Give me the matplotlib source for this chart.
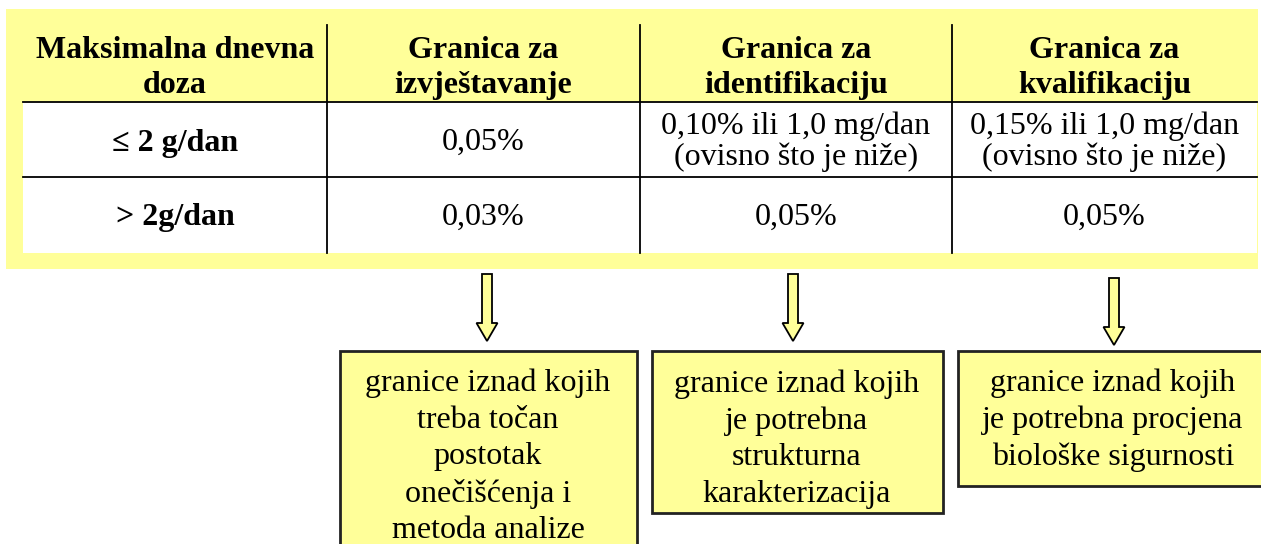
import matplotlib
matplotlib.use("Agg")
import matplotlib.pyplot as plt
from matplotlib.patches import Rectangle, FancyArrow

# ---- content ----
header = ["Maksimalna dnevna\ndoza", "Granica za\nizvještavanje",
          "Granica za\nidentifikaciju", "Granica za\nkvalifikaciju"]
row_labels = ["≤ 2 g/dan", "> 2g/dan"]
row1 = ["0,05%", "0,10% ili 1,0 mg/dan\n(ovisno što je niže)",
        "0,15% ili 1,0 mg/dan\n(ovisno što je niže)"]
row2 = ["0,03%", "0,05%", "0,05%"]
box_texts = ["granice iznad kojih\ntreba točan\npostotak\nonečišćenja i\nmetoda analize",
             "granice iznad kojih\nje potrebna\nstrukturna\nkarakterizacija",
             "granice iznad kojih\nje potrebna procjena\nbiološke sigurnosti"]

# ---- layout (pixel coordinates) ----
W, H = 1261, 544
YEL = "#FFFF99"
fig = plt.figure(figsize=(W / 100, H / 100), dpi=100)
ax = fig.add_axes([0, 0, 1, 1])
ax.set_xlim(0, W)
ax.set_ylim(H, 0)
ax.axis("off")

serif = ["Liberation Serif", "DejaVu Serif"]
fs = 23

# outer yellow frame
ax.add_patch(Rectangle((6, 9), 1252, 260, facecolor=YEL, edgecolor="none"))
# white body of table
ax.add_patch(Rectangle((23, 102), 1234, 151, facecolor="white", edgecolor="none"))

col_edges = [23, 327, 640, 952, 1257]
row_edges = [25, 102, 177, 253]
for x in col_edges[1:-1]:
    ax.plot([x, x], [row_edges[0], row_edges[-1]], color="black", lw=1.3)
for y in row_edges[1:-1]:
    ax.plot([col_edges[0], col_edges[-1]], [y, y], color="black", lw=1.3)

centers = [(col_edges[i] + col_edges[i + 1]) / 2 for i in range(4)]
# header
for cx, t in zip(centers, header):
    ax.text(cx, 68, t, ha="center", va="center", family=serif, fontsize=fs,
            fontweight="bold", linespacing=1.31)
# rows
row_y = [143, 218]
for ry, lab, vals in zip(row_y, row_labels, [row1, row2]):
    ax.text(centers[0], ry, lab, ha="center", va="center", family=serif,
            fontsize=fs, fontweight="bold")
    for cx, v in zip(centers[1:], vals):
        ax.text(cx, ry - 1, v, ha="center", va="center", family=serif,
                fontsize=fs, linespacing=1.07)

# arrows
arrows = [(487, 274, 341), (793, 274, 341), (1114, 278, 345)]
for ax_x, y0, y1 in arrows:
    ax.add_patch(FancyArrow(ax_x, y0, 0, y1 - y0, width=10, head_width=21,
                            head_length=18, length_includes_head=True,
                            facecolor=YEL, edgecolor="black", lw=1.3))

# boxes: (x0, y0, x1, y1, text centre x, text block centre y, clip bottom)
boxes = [(340, 351, 637, 560, 488, 457, None),
         (652, 351, 943, 513, 797, 439, 503),
         (958, 351, 1262, 486, 1113, 420, None)]
for (x0, y0, x1, y1, tx, ty, cb), t in zip(boxes, box_texts):
    r = Rectangle((x0, y0), x1 - x0, y1 - y0, facecolor=YEL,
                  edgecolor="#222222", lw=2)
    ax.add_patch(r)
    txt = ax.text(tx, ty, t, ha="center", va="center", family=serif,
                  fontsize=fs, linespacing=1.34)
    if cb is not None:
        clip = Rectangle((x0, y0), x1 - x0, cb - y0, transform=ax.transData)
        txt.set_clip_path(clip)

fig.savefig("out.png", dpi=100)
